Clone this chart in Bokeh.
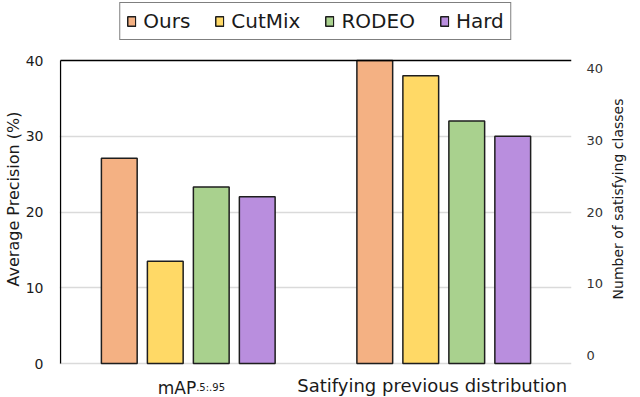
from bokeh.plotting import figure
from bokeh.layouts import row
from bokeh.models import (Range1d, LinearAxis, FixedTicker, Legend, LegendItem,
                          Label, ColumnDataSource)
from bokeh.transform import dodge
from bokeh.embed import file_html
from bokeh.resources import INLINE

# ---- data ----
groups = [0, 1]
group_names = ["mAP", "Satifying previous distribution"]
map_subscript = ".5:.95"
methods = ["Ours", "CutMix", "RODEO", "Hard"]
ours = [27.1, 40.0]
cutmix = [13.5, 38.0]
rodeo = [23.3, 32.0]
hard = [22.0, 30.0]
left_ticks = [0, 10, 20, 30, 40]
right_ticks = [0, 10, 20, 30, 40]

series = [ours, cutmix, rodeo, hard]
colors = ["#F4B183", "#FFD966", "#A9D18E", "#B98EDE"]
offsets = [-0.27, -0.09, 0.09, 0.27]
FONT = "DejaVu Sans"
TXT = "#1a1a1a"

W_LABEL = 34
W, H = 640 - W_LABEL, 397
PX = 303 / 40      # px per unit on the left scale
Y_TOP = 60         # canvas px of value 40
Y_ZERO = 363       # canvas px of value 0
y_end = left_ticks[-1] + Y_TOP / PX
y_start = -(H - Y_ZERO) / PX

p = figure(width=W, height=H, x_range=Range1d(-0.504, 1.5), y_range=Range1d(y_start, y_end),
           output_backend="svg", toolbar_location=None,
           min_border_left=58, min_border_right=26, min_border_top=0, min_border_bottom=0)
p.outline_line_color = None
p.xaxis.visible = False
p.xgrid.visible = False
p.ygrid.ticker = FixedTicker(ticks=left_ticks[:-1])
p.ygrid.grid_line_color = "#dadada"
p.ygrid.grid_line_width = 1.5

renderers = []
for vals, col, off in zip(series, colors, offsets):
    src = ColumnDataSource(dict(x=groups, top=vals))
    r = p.vbar(x=dodge("x", off, range=p.x_range), top="top", width=0.14, source=src,
               fill_color=col, line_color="#1e1e1e", line_width=1.5)
    renderers.append(r)

# frame lines: left axis line and top border
p.segment(x0=-0.5, y0=left_ticks[0], x1=-0.5, y1=left_ticks[-1], line_color="black", line_width=1.3)
p.segment(x0=-0.5, y0=left_ticks[-1], x1=1.5, y1=left_ticks[-1], line_color="black", line_width=1.5)

# left axis
ya = p.yaxis[0]
ya.ticker = FixedTicker(ticks=left_ticks)
ya.axis_label = "Average Precision (%)"
ya.axis_label_text_font = FONT
ya.axis_label_text_font_size = "16px"
ya.axis_label_text_font_style = "normal"
ya.axis_label_text_color = TXT
ya.axis_label_standoff = 0
ya.major_label_text_font = FONT
ya.major_label_text_font_size = "14px"
ya.major_label_text_color = TXT
ya.major_label_standoff = 10
ya.major_tick_line_color = None
ya.minor_tick_line_color = None
ya.axis_line_color = None

# right axis (ticks)
R_PX = 287 / 40
R_TOP = 68
R_ZERO = 355
r_start = -(H - R_ZERO) / R_PX
p.extra_y_ranges = {"right": Range1d(r_start, right_ticks[-1] + R_TOP / R_PX)}
ra = LinearAxis(y_range_name="right", ticker=FixedTicker(ticks=right_ticks))
ra.major_label_text_font = FONT
ra.major_label_text_font_size = "13px"
ra.major_label_text_color = "#333333"
ra.major_label_standoff = 9
ra.major_tick_line_color = None
ra.minor_tick_line_color = None
ra.axis_line_color = None
p.add_layout(ra, "right")

# category labels below the bars
p.add_layout(Label(x=0.031, y=-(387 - Y_ZERO) / PX, text=group_names[0], text_align="right",
                   text_baseline="alphabetic", text_font=FONT, text_font_size="17px",
                   text_color=TXT))
p.add_layout(Label(x=0.031, y=-(387 - Y_ZERO) / PX, text=map_subscript, text_align="left",
                   text_baseline="alphabetic", text_font=FONT, text_font_size="10px",
                   text_color=TXT))
p.add_layout(Label(x=0.955, y=-(385 - Y_ZERO) / PX, text=group_names[1], text_align="center",
                   text_baseline="alphabetic", text_font=FONT, text_font_size="18px",
                   text_color=TXT))

legend = Legend(items=[LegendItem(label=m, renderers=[r]) for m, r in zip(methods, renderers)],
                orientation="horizontal", location="top_center",
                border_line_color="black", border_line_width=1,
                label_text_font=FONT, label_text_font_size="20px", label_text_color=TXT,
                glyph_width=10, glyph_height=12, label_standoff=7, spacing=24,
                padding=6, margin=2)
p.add_layout(legend, "center")

# narrow strip carrying the right-hand axis title (reads bottom-to-top)
q = figure(width=W_LABEL, height=H, x_range=Range1d(0, 1), y_range=Range1d(0, 1),
           output_backend="svg", toolbar_location=None,
           min_border_left=0, min_border_right=0, min_border_top=0, min_border_bottom=0)
q.outline_line_color = None
q.xaxis.visible = False
q.grid.visible = False
qa = q.yaxis[0]
qa.ticker = FixedTicker(ticks=[])
qa.axis_label = "Number of satisfying classes"
qa.axis_label_text_font = FONT
qa.axis_label_text_font_size = "14px"
qa.axis_label_text_font_style = "normal"
qa.axis_label_text_color = TXT
qa.axis_label_standoff = 0
qa.major_tick_line_color = None
qa.minor_tick_line_color = None
qa.axis_line_color = None

layout = row(p, q, spacing=0)
open("out.html", "w").write(file_html(layout, INLINE))
